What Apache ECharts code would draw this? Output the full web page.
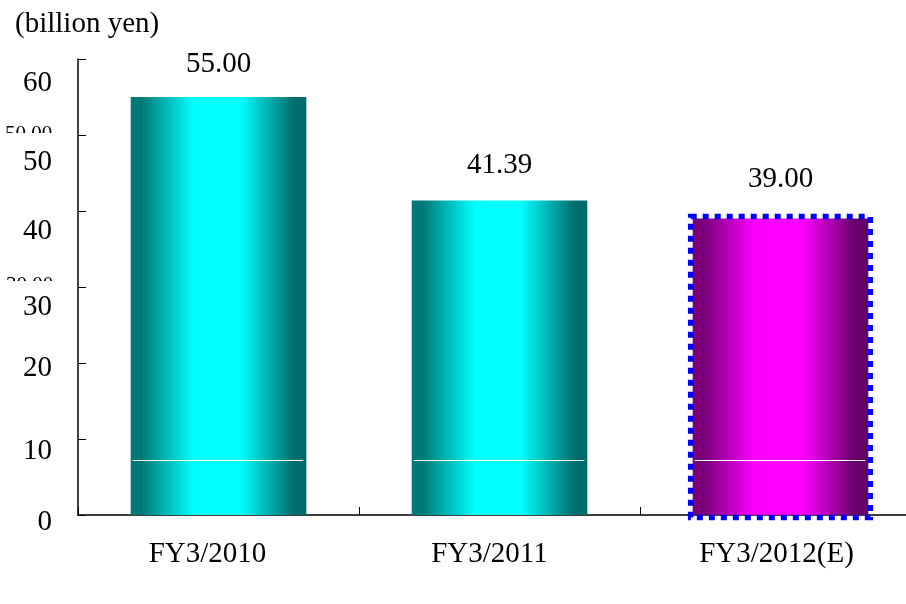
<!DOCTYPE html>
<html>
<head>
<meta charset="utf-8">
<script src="https://cdn.jsdelivr.net/npm/echarts@6/dist/echarts.min.js"></script>
<style>
  html, body { margin: 0; padding: 0; background: #fff; }
  #chart { width: 906px; height: 604px; }
</style>
</head>
<body>
<div id="chart"></div>
<script>
// Fiscal years and values (billion yen)
const categories = ['FY3/2010', 'FY3/2011', 'FY3/2012(E)'];
const values = [55.00, 41.39, 39.00];
const isForecast = [false, false, true];
const seamLevel = [7.2, 7.2, 7.2];
const yTicks = [0, 10, 20, 30, 40, 50, 60];
const unitLabel = '(billion yen)';

const FONT = '"Liberation Serif", "Times New Roman", serif';

// vertical nudges for the y tick labels (px, downward)
const yLabelShift = { 0: 7, 10: 12, 20: 5, 30: 20, 40: 20, 50: 27, 60: 24 };
// horizontal nudges for the category labels (px, leftward)
const xLabelShift = [11, 10, 4];
// gap between each bar top and its value label (px)
const valueLabelGap = [18, 21, 25];

const BAR_WIDTH_RATIO = 0.625;

function grad(edgeL, mid, edgeR) {
  return {
    type: 'linear', x: 0, y: 0, x2: 1, y2: 0,
    colorStops: [
      { offset: 0, color: edgeL },
      { offset: 0.06, color: edgeL },
      { offset: 0.36, color: mid },
      { offset: 0.62, color: mid },
      { offset: 0.93, color: edgeR },
      { offset: 1, color: edgeR }
    ]
  };
}

const tealGrad = grad('#007875', '#00ffff', '#006c6c');
const magentaGrad = grad('#780078', '#ff00ff', '#640066');

const barData = values.map((v, i) => ({
  value: v,
  itemStyle: { color: isForecast[i] ? magentaGrad : tealGrad, borderWidth: 0 },
  label: { distance: valueLabelGap[i] }
}));

const yRich = {};
yTicks.forEach(t => {
  yRich['t' + t] = {
    fontFamily: FONT, fontSize: 29, color: '#000',
    padding: [yLabelShift[t] * 2, 0, 0, 0]
  };
});

const xRich = {};
categories.forEach((c, i) => {
  xRich['c' + i] = {
    fontFamily: FONT, fontSize: 29, color: '#000',
    padding: [0, xLabelShift[i] * 2, 0, 0]
  };
});

const chart = echarts.init(document.getElementById('chart'), null, { renderer: 'canvas' });

// the plot area runs a little past the right edge of the canvas
chart.setOption({
  backgroundColor: '#fff',
  animation: false,
  grid: { left: 78, top: 59, width: 843, height: 456, containLabel: false, outerBoundsMode: 'none' },
  xAxis: {
    type: 'category',
    data: categories,
    boundaryGap: true,
    axisLine: { show: true, lineStyle: { color: '#000', width: 1.5 } },
    axisTick: { show: true, inside: true, length: 8, alignWithLabel: false, lineStyle: { color: '#000' } },
    axisLabel: {
      margin: 25,
      formatter: (v, i) => '{c' + i + '|' + v + '}',
      rich: xRich
    },
    splitLine: { show: false }
  },
  yAxis: {
    type: 'value',
    min: 0, max: 60, interval: 10,
    axisLine: { show: true, lineStyle: { color: '#000', width: 1.5 } },
    axisTick: { show: true, inside: true, length: 8, lineStyle: { color: '#000' } },
    axisLabel: {
      margin: 26,
      formatter: v => '{t' + v + '|' + v + '}',
      rich: yRich
    },
    splitLine: { show: false }
  },
  series: [
    {
      type: 'bar',
      data: barData,
      barWidth: (BAR_WIDTH_RATIO * 100) + '%',
      label: {
        show: true,
        position: 'top',
        fontFamily: FONT,
        fontSize: 29,
        color: '#000',
        formatter: p => p.value.toFixed(2)
      },
      z: 2
    },
    {
      // thin white seam running across each bar
      type: 'custom',
      data: seamLevel.map((v, i) => [i, v]),
      z: 5,
      silent: true,
      renderItem(params, api) {
        const p = api.coord([api.value(0), api.value(1)]);
        const w = api.size([1, 0])[0] * BAR_WIDTH_RATIO;
        return {
          type: 'line',
          shape: { x1: p[0] - w / 2 + 2, y1: Math.round(p[1]) + 0.5, x2: p[0] + w / 2 - 3, y2: Math.round(p[1]) + 0.5 },
          style: { stroke: '#ffffff', lineWidth: 1.2 }
        };
      }
    },
    {
      // dotted blue frame around the forecast bar
      type: 'custom',
      data: values.map((v, i) => [i, v]).filter((d, i) => isForecast[i]),
      z: 6,
      silent: true,
      renderItem(params, api) {
        const top = api.coord([api.value(0), api.value(1)]);
        const base = api.coord([api.value(0), 0]);
        const w = api.size([1, 0])[0] * BAR_WIDTH_RATIO;
        return {
          type: 'rect',
          shape: { x: top[0] - w / 2 - 2, y: top[1] - 2, width: w + 4, height: base[1] - top[1] + 4.5 },
          style: { fill: null, stroke: '#0000ff', lineWidth: 5.5, lineDash: [6, 6] }
        };
      }
    }
  ],
  graphic: [
    {
      type: 'text', left: 15, top: 10,
      style: { text: unitLabel, font: '29px ' + FONT, fill: '#000' }
    },
    // partly hidden duplicate figures beside the axis
    {
      type: 'text', left: 5, top: 124, z: 0,
      style: { text: '50.00', font: '21px ' + FONT, fill: '#000' }
    },
    { type: 'rect', left: 0, top: 133, z: 1, shape: { width: 70, height: 14 }, style: { fill: '#fff' } },
    {
      type: 'text', left: 6, top: 275, z: 0,
      style: { text: '30.00', font: '21px ' + FONT, fill: '#000' }
    },
    { type: 'rect', left: 0, top: 281, z: 1, shape: { width: 70, height: 12 }, style: { fill: '#fff' } }
  ]
});
</script>
</body>
</html>
